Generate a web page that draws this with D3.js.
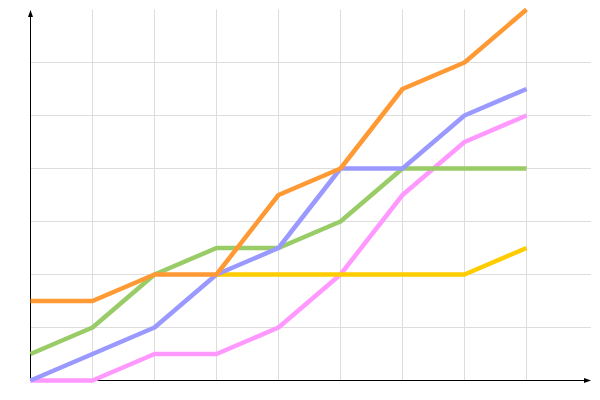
<!DOCTYPE html>
<html><head><meta charset="utf-8">
<script src="https://cdn.jsdelivr.net/npm/d3@7"></script>
<style>body{margin:0;background:#fff}svg{display:block}</style>
</head><body>
<svg id="c" width="600" height="400"></svg>
<script>
const xIndex = [0,1,2,3,4,5,6,7,8];
const seriesPink   = [0,0,0.5,0.5,1,2,3.5,4.5,5];
const seriesYellow = [null,null,null,2,2,2,2,2,2.5];
const seriesGreen  = [0.5,1,2,2.5,2.5,3,4,4,4];
const seriesBlue   = [0,0.5,1,2,2.5,4,4,5,5.5];
const seriesOrange = [1.5,1.5,2,2,3.5,4,5.5,6,7];
const xGridTicks = [1,2,3,4,5,6,7,8];
const yGridTicks = [1,2,3,4,5,6];

const series = [
  {values: seriesPink, color: "#ff99ff"},
  {values: seriesYellow, color: "#ffcc00"},
  {values: seriesGreen, color: "#99cc66"},
  {values: seriesBlue, color: "#9999ff"},
  {values: seriesOrange, color: "#ff9933"}
];

const svg = d3.select("#c");
const x = d3.scaleLinear().domain([0,8]).range([30.5,526.5]);
const y = d3.scaleLinear().domain([0,7]).range([380.5,9.5]);

// grid
const g = svg.append("g");
g.selectAll("line.v").data(xGridTicks).join("line")
  .attr("x1", d=>x(d)).attr("x2", d=>x(d))
  .attr("y1", y(0)).attr("y2", y(7))
  .attr("stroke", "#dddddd").attr("stroke-width", 1);
g.selectAll("line.h").data(yGridTicks).join("line")
  .attr("x1", x(0)).attr("x2", 591)
  .attr("y1", d=>y(d)).attr("y2", d=>y(d))
  .attr("stroke", "#dddddd").attr("stroke-width", 1);

// axes
svg.append("line").attr("x1", x(0)).attr("x2", x(0)).attr("y1", y(0)).attr("y2", 11)
  .attr("stroke", "#000").attr("stroke-width", 1);
svg.append("line").attr("x1", x(0)).attr("x2", 590).attr("y1", y(0)).attr("y2", y(0))
  .attr("stroke", "#000").attr("stroke-width", 1);
svg.append("path").attr("d", `M${x(0)},10 L${x(0)-2.5},17 L${x(0)+2.5},17 Z`).attr("fill", "#000");
svg.append("path").attr("d", `M591,${y(0)} L584,${y(0)-2.5} L584,${y(0)+2.5} Z`).attr("fill", "#000");

// lines
const line = d3.line()
  .defined(d => d != null)
  .x((d,i) => x(xIndex[i]))
  .y(d => y(d));
svg.selectAll("path.s").data(series).join("path")
  .attr("class","s")
  .attr("d", d => line(d.values))
  .attr("fill", "none")
  .attr("stroke", d => d.color)
  .attr("stroke-width", 4.5)
  .attr("stroke-linejoin", "round");
</script>
</body></html>
